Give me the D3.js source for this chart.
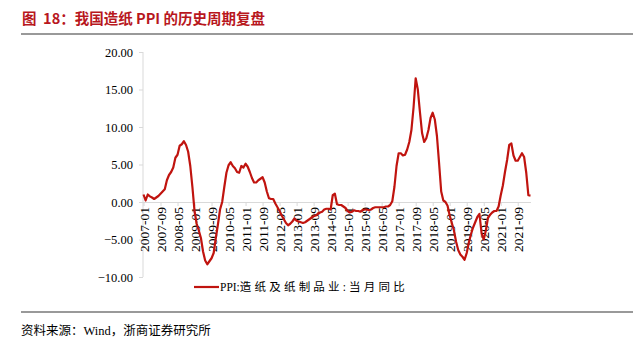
<html>
  <head>
    <script src="https://d3js.org/d3.v7.min.js"></script>
    <style>
      body { margin: 0; background: #fff; }
      .axis text { font-family: "Liberation Serif", "Times New Roman", serif; font-size: 12px; fill: #000; }
      .axis .domain, .axis line { stroke: #d9d9d9; }
    </style>
  </head>
  <body>
    <svg id="svg1" width="633" height="352"></svg>
    <script>
      // monthly categories 2007-01 .. 2022-03
      const months = d3.timeMonth
        .range(new Date(2007, 0, 1), new Date(2022, 3, 1))
        .map(d3.timeFormat("%Y-%m"));

      // PPI:造纸及纸制品业:当月同比 (%)
      const ppiPaper = [
        1.0, 0.2, 1.0, 0.75, 0.6, 0.4, 0.6, 0.8, 1.1, 1.4, 1.7, 2.9,
        3.6, 4.0, 4.6, 5.9, 6.3, 7.5, 7.7, 8.1, 7.6, 6.7, 4.8, 2.0,
        -1.2, -2.9, -3.8, -4.8, -6.6, -7.8, -8.3, -7.9, -7.5, -6.8, -4.8, -3.0,
        -1.0, 0.0, 2.0, 3.9, 4.9, 5.3, 4.8, 4.5, 4.0, 3.9, 4.8, 4.6,
        5.1, 4.7, 4.0, 3.2, 2.6, 2.6, 2.9, 3.1, 3.3, 2.6, 1.4, 0.5,
        0.4, 0.4, -0.2, -0.7, -1.2, -1.8, -2.3, -2.8, -3.1, -2.9, -2.6, -2.2,
        -2.5, -2.6, -2.7, -2.8, -2.7, -2.5, -2.3, -2.1, -1.9, -1.8, -1.6, -1.4,
        -1.3, -1.0, -0.9, -0.9, -1.0, 0.9, 1.1, -0.3, -0.4, -0.4, -0.6, -0.8,
        -1.2, -1.4, -1.3, -1.1, -1.2, -1.2, -1.3, -1.1, -1.0, -1.0, -1.1, -1.0,
        -0.8, -0.7, -0.7, -0.7, -0.7, -0.7, -0.6, -0.6, -0.4, 0.1, 2.0, 4.8,
        6.5, 6.5, 6.2, 6.3, 7.0, 8.0, 9.6, 12.6, 16.5, 15.0, 12.0, 9.2,
        8.0, 8.5, 9.6, 11.2, 11.9, 11.0, 8.8, 5.2, 1.4, 0.2, 0.0, -0.5,
        -1.8, -2.8, -3.8, -5.3, -6.4, -7.0, -7.3, -7.7, -6.8, -5.4, -4.3, -3.4,
        -2.7, -2.0, -1.6, -4.2, -5.0, -3.8, -2.1, -1.7, -1.4, -1.2, -1.2, -0.6,
        0.9, 2.2, 4.0, 5.6, 7.6, 7.8, 6.2, 5.5, 5.5, 6.0, 6.5, 6.0,
        3.9, 0.9, 0.85
      ];

      const xTickLabels = [
        "2007-01", "2007-09", "2008-05", "2009-01", "2009-09", "2010-05",
        "2011-01", "2011-09", "2012-05", "2013-01", "2013-09", "2014-05",
        "2015-01", "2015-09", "2016-05", "2017-01", "2017-09", "2018-05",
        "2019-01", "2019-09", "2020-05", "2021-01", "2021-09"
      ];
      const yTicks = [-10, -5, 0, 5, 10, 15, 20];

      const svg = d3.select("svg#svg1");
      const red = "#c0140f";

      // title + rules
      svg.append("text")
        .attr("x", 22).attr("y", 24)
        .attr("fill", "#b8171d")
        .attr("font-family", "'Noto Sans CJK SC', sans-serif")
        .attr("font-weight", "bold")
        .attr("font-size", 14.5)
        .text("图\u00a0\u00a018：我国造纸 PPI 的历史周期复盘");
      svg.append("line")
        .attr("x1", 21).attr("x2", 633).attr("y1", 34).attr("y2", 34)
        .attr("stroke", "#999").attr("stroke-width", 2);
      svg.append("line")
        .attr("x1", 21).attr("x2", 633).attr("y1", 312).attr("y2", 312)
        .attr("stroke", "#999").attr("stroke-width", 2);
      svg.append("text")
        .attr("x", 21).attr("y", 335)
        .attr("font-family", "'Liberation Serif', 'Noto Sans CJK SC', serif")
        .attr("font-size", 12.5)
        .text("资料来源：Wind，浙商证券研究所");

      const x = d3.scalePoint().domain(months).range([143.5, 530.5]);
      const y = d3.scaleLinear().domain([-10, 20]).range([277, 52]);

      // y axis
      const yAxis = d3.axisLeft(y).tickValues(yTicks).tickSize(4)
        .tickFormat(d3.format(".2f"));
      const gy = svg.append("g").attr("class", "axis")
        .attr("transform", "translate(143,0)").call(yAxis);
      gy.select(".domain").attr("d", `M-0,${y(-10)}V${y(20)}`);
      gy.selectAll("text").attr("x", -10).attr("dy", "0.35em").style("font-size", "12.5px");

      // x axis at zero
      const xAxis = d3.axisBottom(x).tickValues(xTickLabels).tickSize(4).tickSizeOuter(0);
      const gx = svg.append("g").attr("class", "axis")
        .attr("transform", `translate(0,${y(0)})`).call(xAxis);
      gx.select(".domain").attr("d", `M143,0.5H531`);
      gx.selectAll("text")
        .attr("transform", "rotate(-90)")
        .attr("x", -5).attr("y", 0).attr("dy", "0.35em")
        .style("text-anchor", "end")
        .style("font-size", "13.5px");

      // series
      const lineGen = d3.line()
        .x((d, i) => x(months[i]))
        .y((d) => y(d));
      svg.append("path")
        .datum(ppiPaper)
        .attr("fill", "none")
        .attr("stroke", red)
        .attr("stroke-width", 2.2)
        .attr("stroke-linejoin", "round")
        .attr("d", lineGen);

      // legend
      svg.append("line")
        .attr("x1", 194).attr("x2", 219).attr("y1", 287).attr("y2", 287)
        .attr("stroke", red).attr("stroke-width", 2.2);
      const leg = svg.append("text")
        .attr("x", 220).attr("y", 291)
        .attr("font-family", "'Liberation Serif', 'Noto Sans CJK SC', serif")
        .attr("font-size", 11.5);
      leg.append("tspan").text("PPI:");
      leg.append("tspan").attr("letter-spacing", 3.2).text("造纸及纸制品业:当月同比");
    </script>
  </body>
</html>
